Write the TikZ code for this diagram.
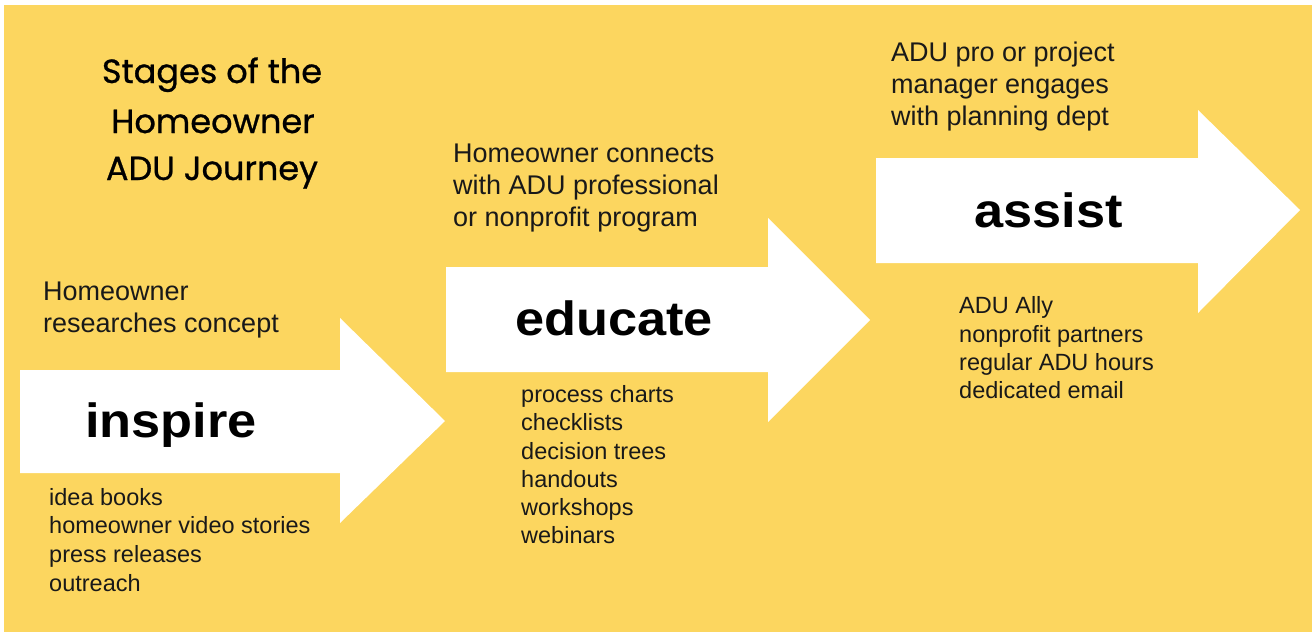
\documentclass[tikz,border=0pt]{standalone}
\usepackage{fontspec}
\setmainfont{Liberation Sans}
\newfontfamily\titlefont{Poppins}[FakeBold=0.8]
\definecolor{bgyellow}{HTML}{FCD65F}
\tikzset{
  desc/.style={anchor=base west, inner sep=0pt, font=\fontsize{27}{32}\selectfont, text=black!90},
  item/.style={anchor=base west, inner sep=0pt, font=\fontsize{23.5}{28}\selectfont, text=black!90},
  big/.style={anchor=base west, inner sep=0pt, xscale=1.09, font=\fontsize{48}{56}\selectfont\bfseries, text=black},
  ttl/.style={anchor=base, inner sep=0pt, font=\titlefont\fontsize{33.5}{40}\selectfont, text=black},
  arrowshape/.style={fill=white, draw=none}
}
\begin{document}
\begin{tikzpicture}[x=1pt,y=-1pt]
\useasboundingbox (0,0) rectangle (1312,632);
\fill[white] (0,0) rectangle (1312,632);
\fill[bgyellow] (4,5) rectangle (1312,632);
% arrows
\fill[arrowshape] (20,370) -- (340,370) -- (340,318) -- (445,421) -- (340,523) -- (340,473) -- (20,473) -- cycle;
\fill[arrowshape] (446,267) -- (768,267) -- (768,218) -- (870,320) -- (768,422) -- (768,372) -- (446,372) -- cycle;
\fill[arrowshape] (876,158) -- (1198,158) -- (1198,110) -- (1300,210) -- (1198,313) -- (1198,263) -- (876,263) -- cycle;
% title
\node[ttl] (t1) at (212,83) {Stages of the};
\node[ttl] (t2) at (213,133) {Homeowner};
\node[ttl] (t3) at (212,180) {ADU Journey};
% stage 1
\node[desc] (a1) at (43,300) {Homeowner};
\node[desc] (a2) at (43,332) {researches concept};
\node[big] (inspire) at (85,437) {inspire};
\node[item] (i1) at (49,505) {idea books};
\node[item] (i2) at (49,533) {homeowner video stories};
\node[item] (i3) at (49,562) {press releases};
\node[item] (i4) at (49,591) {outreach};
% stage 2
\node[desc] (b1) at (453,162) {Homeowner connects};
\node[desc] (b2) at (453,194) {with ADU professional};
\node[desc] (b3) at (453,226) {or nonprofit program};
\node[big] (educate) at (515,335) {educate};
\node[item] (e1) at (521,402) {process charts};
\node[item] (e2) at (521,430) {checklists};
\node[item] (e3) at (521,459) {decision trees};
\node[item] (e4) at (521,487) {handouts};
\node[item] (e5) at (521,515) {workshops};
\node[item] (e6) at (521,543) {webinars};
% stage 3
\node[desc] (c1) at (891,61) {ADU pro or project};
\node[desc] (c2) at (891,93) {manager engages};
\node[desc] (c3) at (891,125) {with planning dept};
\node[big] (assist) at (974,227) {assist};
\node[item] (s1) at (959,313) {ADU Ally};
\node[item] (s2) at (959,342) {nonprofit partners};
\node[item] (s3) at (959,370) {regular ADU hours};
\node[item] (s4) at (959,398) {dedicated email};
\end{tikzpicture}
\end{document}
